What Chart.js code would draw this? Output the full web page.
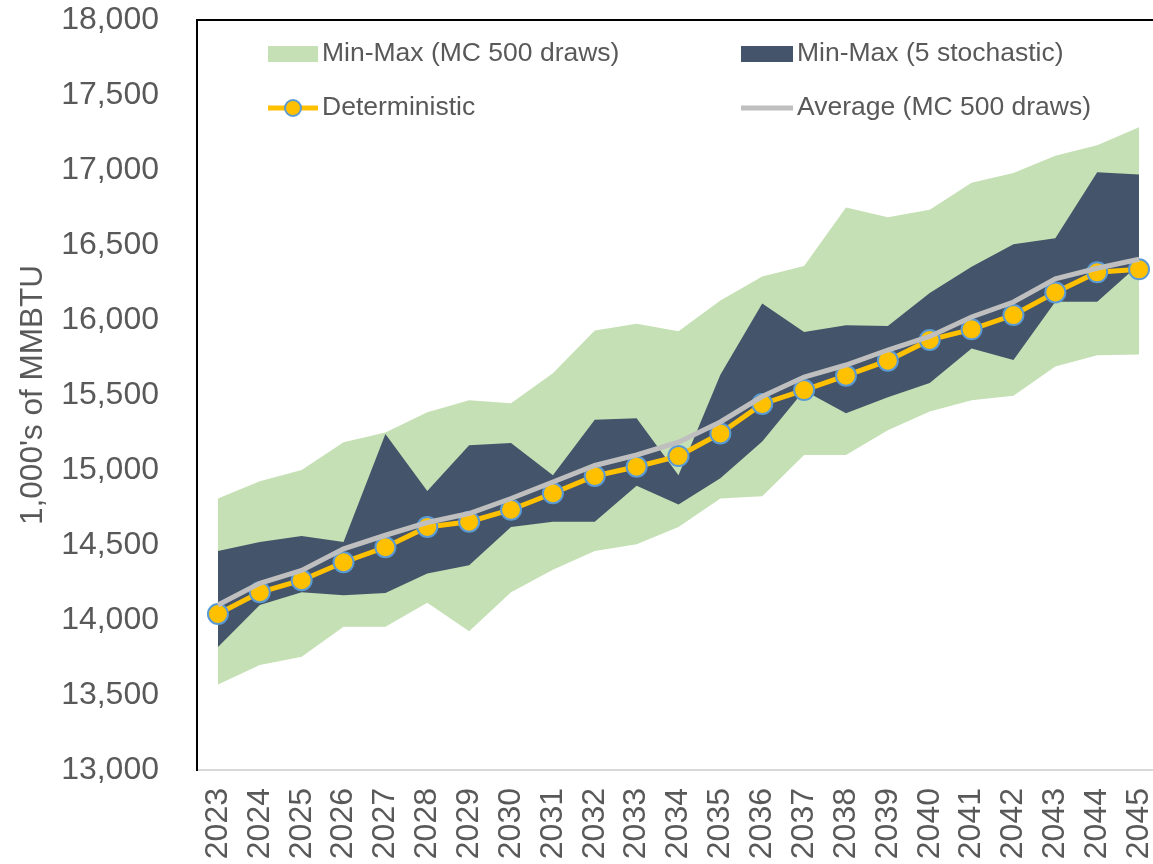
<!DOCTYPE html>
<html>
<head>
<meta charset="utf-8">
<title>MMBTU range</title>
<script src="https://cdn.jsdelivr.net/npm/chart.js@4.4.1/dist/chart.umd.min.js"></script>
<style>
  html, body { margin: 0; padding: 0; background: #fff; overflow: hidden; }
  #chart-box { width: 1160px; height: 864px; }
</style>
</head>
<body>
<div id="chart-box">
  <canvas id="myChart" width="1160" height="864"></canvas>
</div>
<script>
'use strict';

/// DATA
let years = ['2023', '2024', '2025', '2026', '2027', '2028', '2029', '2030', '2031', '2032', '2033', '2034',
  '2035', '2036', '2037', '2038', '2039', '2040', '2041', '2042', '2043', '2044', '2045'];

// Min-Max (MC 500 draws)
let mcMax = [14810, 14925, 15000, 15185, 15250, 15385, 15465, 15445, 15645, 15930, 15975, 15925,
  16130, 16290, 16360, 16750, 16685, 16735, 16915, 16980, 17095, 17165, 17285];
let mcMin = [13570, 13700, 13755, 13955, 13955, 14115, 13925, 14185, 14335, 14460, 14505, 14620,
  14810, 14825, 15100, 15100, 15265, 15390, 15465, 15495, 15690, 15765, 15770];

// Min-Max (5 stochastic)
let stochMax = [14460, 14520, 14560, 14520, 15240, 14860, 15165, 15180, 14965, 15335, 15345, 14965,
  15635, 16110, 15920, 15965, 15960, 16180, 16355, 16505, 16545, 16985, 16970];
let stochMin = [13820, 14100, 14185, 14165, 14180, 14310, 14365, 14620, 14655, 14655, 14895, 14770,
  14945, 15190, 15530, 15378, 15485, 15580, 15810, 15733, 16122, 16122, 16370];

let deterministic = [14040, 14185, 14265, 14385, 14485, 14620, 14655, 14735, 14845, 14960, 15022, 15093,
  15244, 15440, 15533, 15629, 15729, 15867, 15938, 16033, 16184, 16318, 16338];
let average = [14100, 14245, 14330, 14475, 14565, 14650, 14710, 14810, 14920, 15030, 15100, 15185,
  15320, 15490, 15620, 15700, 15800, 15890, 16020, 16120, 16275, 16345, 16405];

let yMin = 13000;
let yMax = 18000;
let yStep = 500;

// COLORS / FONTS
let greenBand = '#C5E0B4';
let darkBand = '#44546A';
let gold = '#FFC000';
let markerEdge = '#5B9BD5';
let avgGray = '#BFBFBF';
let textGray = '#595959';
let fontFam = '"Liberation Sans", Arial, sans-serif';

let canvasElem = document.getElementById('myChart').getContext('2d');

// LEGEND + FRAME PLUGIN (2x2 legend like the excel one)
let legendPlugin = {
  id: 'gridLegend',
  afterDraw(chart) {
    let ctx = chart.ctx;
    let area = chart.chartArea;
    let ds = chart.data.datasets;

    ctx.save();
    // top frame line
    ctx.strokeStyle = '#000';
    ctx.lineWidth = 2;
    ctx.beginPath();
    ctx.moveTo(area.left - 1, area.top);
    ctx.lineTo(area.right, area.top);
    ctx.stroke();

    ctx.font = '26.5px ' + fontFam;
    ctx.fillStyle = textGray;
    ctx.textBaseline = 'middle';
    ctx.textAlign = 'left';

    let row1 = area.top + 34;
    let row2 = area.top + 88;
    let col1 = area.left + 71;
    let col2 = area.left + 544;

    // green box
    ctx.fillStyle = greenBand;
    ctx.fillRect(col1, row1 - 8, 50, 16);
    ctx.fillStyle = textGray;
    ctx.fillText(ds[0].label, col1 + 54, row1);

    // dark box
    ctx.fillStyle = darkBand;
    ctx.fillRect(col2, row1 - 8, 52, 16);
    ctx.fillStyle = textGray;
    ctx.fillText(ds[2].label, col2 + 56, row1);

    // deterministic line + marker
    ctx.strokeStyle = gold;
    ctx.lineWidth = 5;
    ctx.beginPath();
    ctx.moveTo(col1, row2);
    ctx.lineTo(col1 + 50, row2);
    ctx.stroke();
    ctx.beginPath();
    ctx.arc(col1 + 25, row2, 8, 0, Math.PI * 2);
    ctx.fillStyle = gold;
    ctx.fill();
    ctx.lineWidth = 2;
    ctx.strokeStyle = markerEdge;
    ctx.stroke();
    ctx.fillStyle = textGray;
    ctx.fillText(ds[4].label, col1 + 54, row2);

    // average line
    ctx.strokeStyle = avgGray;
    ctx.lineWidth = 5;
    ctx.beginPath();
    ctx.moveTo(col2, row2);
    ctx.lineTo(col2 + 52, row2);
    ctx.stroke();
    ctx.fillText(ds[5].label, col2 + 56, row2);

    ctx.restore();
  },
};

// CHART
let myChartObj = {
  type: 'line',
  data: {
    labels: years,
    datasets: [
      {
        label: 'Min-Max (MC 500 draws)',
        data: mcMax,
        borderWidth: 0,
        pointRadius: 0,
        backgroundColor: greenBand,
        fill: 1,
        order: 3,
      },
      {
        label: 'MC min',
        data: mcMin,
        borderWidth: 0,
        pointRadius: 0,
        fill: false,
        order: 3,
      },
      {
        label: 'Min-Max (5 stochastic)',
        data: stochMax,
        borderWidth: 0,
        pointRadius: 0,
        backgroundColor: darkBand,
        fill: 3,
        order: 2,
      },
      {
        label: 'Stochastic min',
        data: stochMin,
        borderWidth: 0,
        pointRadius: 0,
        fill: false,
        order: 2,
      },
      {
        label: 'Deterministic',
        data: deterministic,
        borderColor: gold,
        borderWidth: 5,
        pointRadius: 10,
        pointBackgroundColor: gold,
        pointBorderColor: markerEdge,
        pointBorderWidth: 2,
        fill: false,
        order: 1,
      },
      {
        label: 'Average (MC 500 draws)',
        data: average,
        borderColor: avgGray,
        borderWidth: 5,
        pointRadius: 0,
        fill: false,
        order: 0,
      },
    ],
  },
  options: {
    responsive: false,
    animation: false,
    devicePixelRatio: 1,
    layout: {
      autoPadding: false,
      padding: { top: 20, right: 0, bottom: 0, left: 0 },
    },
    plugins: {
      legend: { display: false },
      tooltip: { enabled: false },
    },
    scales: {
      x: {
        offset: true,
        grid: { display: false, drawTicks: false },
        border: { color: '#D9D9D9', width: 2 },
        ticks: {
          color: textGray,
          font: { family: fontFam, size: 32 },
          minRotation: 90,
          maxRotation: 90,
          autoSkip: false,
          padding: 18,
        },
        afterFit(scale) {
          // keep the plot box the same size as the excel one
          scale.height = 94;
          scale.paddingLeft = 0;
          scale.paddingRight = 0;
        },
      },
      y: {
        min: yMin,
        max: yMax,
        grid: { display: false, drawTicks: false },
        border: { color: '#000', width: 2 },
        ticks: {
          stepSize: yStep,
          color: textGray,
          font: { family: fontFam, size: 32 },
          padding: 38,
          callback: (v) => v.toLocaleString('en-US'),
        },
        title: {
          display: true,
          text: "1,000's of MMBTU",
          color: textGray,
          font: { family: fontFam, size: 31.5 },
          padding: { top: 14, bottom: 8 },
        },
        afterFit(scale) {
          scale.width = 197;
          scale.paddingTop = 0;
          scale.paddingBottom = 0;
        },
      },
    },
  },
  plugins: [legendPlugin],
};

new Chart(canvasElem, myChartObj);
</script>
</body>
</html>
